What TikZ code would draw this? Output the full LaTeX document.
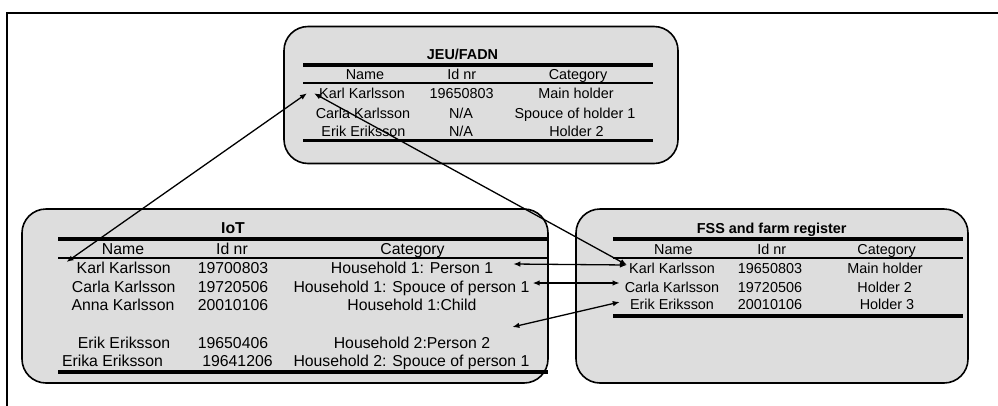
\documentclass[tikz,border=0pt]{standalone}
\usepackage{fontspec}
\setmainfont{Liberation Sans}
\usetikzlibrary{arrows.meta}
\definecolor{panelgray}{RGB}{221,221,221}

\begin{document}
\begin{tikzpicture}[x=1pt,y=-1pt,
  panel/.style={draw=black, line width=1.6pt, fill=panelgray, rounded corners=24pt, inner sep=0pt},
  smalltxt/.style={inner sep=0pt, anchor=center, text height=10.4pt, text depth=0pt,
                   font=\fontsize{14.4}{16}\selectfont},
  largetxt/.style={inner sep=0pt, anchor=center, text height=11.4pt, text depth=0pt,
                   font=\fontsize{15.8}{18}\selectfont},
  rulethick/.style={line width=3.4pt},
  rulethin/.style={line width=2pt},
  link/.style={line width=1.3pt, {Latex[length=7pt,width=5.5pt]}-{Latex[length=7pt,width=5.5pt]}}
]
\useasboundingbox (0,0) rectangle (998,405);

% frame edges
\draw[line width=2pt] (1000,13) -- (7,13) -- (7,407);

% ---------------- JEU/FADN ----------------
\node[panel, minimum width=394pt, minimum height=137pt] (jeubox) at (481,95) {};
\node[smalltxt, font=\fontsize{14.4}{16}\selectfont\bfseries] (jeutitle) at (462.5,54.3) {JEU/FADN};
\draw[rulethick] (303,65) -- (653,65);
\draw[rulethin] (303,83.3) -- (653,83.3);
\draw[rulethick] (303,140.7) -- (653,140.7);
\node[smalltxt] (jhname) at (365,74.3) {Name};
\node[smalltxt] (jhid)   at (461.7,74.3) {Id nr};
\node[smalltxt] (jhcat)  at (578,74.3) {Category};
\node[smalltxt] (jk)  at (362,93.3) {Karl Karlsson};
\node[smalltxt] (jki) at (461.7,93.3) {19650803};
\node[smalltxt] (jkc) at (576,93.3) {Main holder};
\node[smalltxt] (jc)  at (363,113) {Carla Karlsson};
\node[smalltxt] (jci) at (461,113) {N/A};
\node[smalltxt] (jcc) at (575,113) {Spouce of holder 1};
\node[smalltxt] (je)  at (363.5,131) {Erik Eriksson};
\node[smalltxt] (jei) at (461,131) {N/A};
\node[smalltxt] (jec) at (576.5,131) {Holder 2};

% ---------------- IoT ----------------
\node[panel, minimum width=526pt, minimum height=174pt] (iotbox) at (285,296) {};
\node[largetxt, font=\fontsize{15.8}{18}\selectfont\bfseries] (iottitle) at (233,228) {IoT};
\draw[rulethick] (58,239) -- (548,239);
\draw[rulethin] (58,258) -- (548,258);
\draw[rulethick] (58,372) -- (548,372);
\node[largetxt] (ihname) at (123,249) {Name};
\node[largetxt] (ihid)   at (232,249) {Id nr};
\node[largetxt] (ihcat)  at (412.5,249) {Category};
\node[largetxt] (ik)  at (123.7,268) {Karl Karlsson};
\node[largetxt] (iki) at (233,268) {19700803};
\node[largetxt] (ic1) at (412,268) {Household 1: Person 1};
\node[largetxt] (ic)  at (123.7,287) {Carla Karlsson};
\node[largetxt] (ici) at (233,287) {19720506};
\node[largetxt] (ic2) at (411.5,287) {Household 1: Spouce of person 1};
\node[largetxt] (ia)  at (123,305) {Anna Karlsson};
\node[largetxt] (iai) at (233,305) {20010106};
\node[largetxt] (ic3) at (412,305) {Household 1:Child};
\node[largetxt] (ie)  at (124,343) {Erik Eriksson};
\node[largetxt] (iei) at (233,343) {19650406};
\node[largetxt] (ic4) at (412,343) {Household 2:Person 2};
\node[largetxt] (iea)  at (112.5,361) {Erika Eriksson};
\node[largetxt] (ieai) at (237.5,361) {19641206};
\node[largetxt] (ic5)  at (411.5,361) {Household 2: Spouce of person 1};

% ---------------- FSS and farm register ----------------
\node[panel, minimum width=392pt, minimum height=174pt] (fssbox) at (772,296) {};
\node[smalltxt, font=\fontsize{14.4}{16}\selectfont\bfseries] (fsstitle) at (771.7,228) {FSS and farm register};
\draw[rulethick] (613,239) -- (963,239);
\draw[rulethin] (613,258) -- (963,258);
\draw[rulethick] (613,316) -- (963,316);
\node[smalltxt] (fhname) at (673.3,249) {Name};
\node[smalltxt] (fhid)   at (771.7,249) {Id nr};
\node[smalltxt] (fhcat)  at (886.7,249) {Category};
\node[smalltxt] (fk)  at (672,268) {Karl Karlsson};
\node[smalltxt] (fki) at (770,268) {19650803};
\node[smalltxt] (fkc) at (885,268) {Main holder};
\node[smalltxt] (fc)  at (672,287) {Carla Karlsson};
\node[smalltxt] (fci) at (770,287) {19720506};
\node[smalltxt] (fcc) at (884.7,287) {Holder 2};
\node[smalltxt] (fe)  at (672,304) {Erik Eriksson};
\node[smalltxt] (fei) at (770,304) {20010106};
\node[smalltxt] (fec) at (887,304) {Holder 3};

% ---------------- links between registers ----------------
\draw[link] ([shift={(-10,-6)}]ik.west) -- ([shift={(-12,0)}]jk.west);
\draw[link] ([shift={(-5,0)}]jk.west) -- ([shift={(-2,-3)}]fk.west);
\draw[link] ([shift={(20,-4)}]ic1.east) -- ([shift={(-2,-3)}]fk.west);
\draw[link] ([shift={(3,-4)}]ic2.east) -- ([shift={(-5,-4)}]fc.west);
\draw[link] ([shift={(22,-16)}]ic4.east) -- ([shift={(-10,-2)}]fe.west);
\end{tikzpicture}
\end{document}
